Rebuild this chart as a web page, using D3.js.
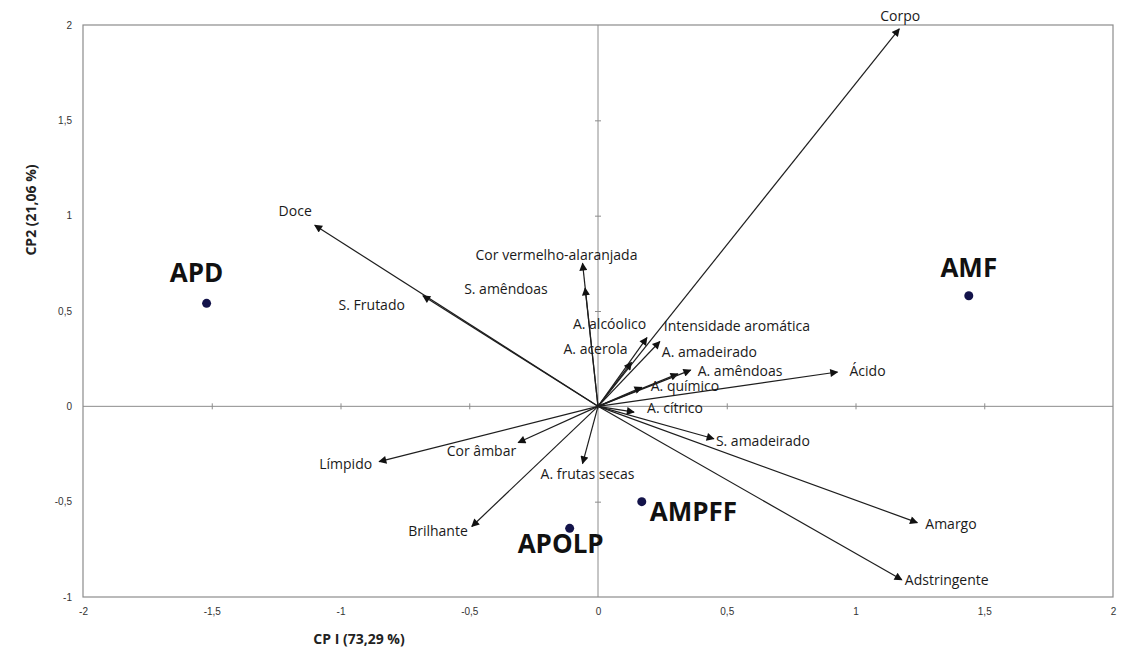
<!DOCTYPE html>
<html>
<head>
<meta charset="utf-8">
<script src="https://cdn.jsdelivr.net/npm/d3@7"></script>
<style>
  body { margin: 0; background: #fff; }
  svg { font-family: "Open Sans", "Noto Sans", sans-serif; }
  .tick text { fill: #333; font-size: 10px; }
</style>
</head>
<body>
<div id="chart"></div>
<script>
// variable loadings (arrows)
const varNames = ['Corpo', 'Doce', 'S. Frutado', 'Cor vermelho-alaranjada', 'S. amêndoas',
  'A. alcóolico', 'Intensidade aromática', 'A. acerola', 'A. amadeirado', 'A. amêndoas',
  'A. químico', 'A. cítrico', 'Ácido', 'S. amadeirado', 'Cor âmbar', 'A. frutas secas',
  'Límpido', 'Brilhante', 'Amargo', 'Adstringente'];
const varCP1 = [1.17, -1.10, -0.68, -0.06, -0.05, 0.19, 0.24, 0.13, 0.31, 0.36,
  0.17, 0.14, 0.93, 0.45, -0.31, -0.06, -0.85, -0.49, 1.24, 1.18];
const varCP2 = [1.98, 0.95, 0.58, 0.75, 0.62, 0.36, 0.34, 0.23, 0.17, 0.19,
  0.10, -0.03, 0.18, -0.17, -0.19, -0.30, -0.29, -0.63, -0.61, -0.91];

// sample scores (points)
const sampleNames = ['APD', 'AMF', 'AMPFF', 'APOLP'];
const sampleCP1 = [-1.52, 1.44, 0.17, -0.11];
const sampleCP2 = [0.54, 0.58, -0.50, -0.64];

const xTicks = [-2, -1.5, -1, -0.5, 0, 0.5, 1, 1.5, 2];
const yTicks = [-1, -0.5, 0, 0.5, 1, 1.5, 2];

// label placement relative to arrow tip: [dx, dy, anchor]
const varLabelPos = {
  'Corpo': [1, -12, 'middle'], 'Doce': [-3, -13, 'end'], 'S. Frutado': [-18, 11, 'end'],
  'Cor vermelho-alaranjada': [-107, -7, 'start'], 'S. amêndoas': [-121, 2, 'start'],
  'A. alcóolico': [-74, -12, 'start'], 'Intensidade aromática': [4, -14, 'start'],
  'A. acerola': [-68, -12, 'start'], 'A. amadeirado': [-16, -21, 'start'],
  'A. amêndoas': [7, 2, 'start'], 'A. químico': [9, 0, 'start'], 'A. cítrico': [13, -3, 'start'],
  'Ácido': [12, 0, 'start'], 'S. amadeirado': [2, 4, 'start'], 'Cor âmbar': [-2, 10, 'end'],
  'A. frutas secas': [-42, 12, 'start'], 'Límpido': [-7, 4, 'end'], 'Brilhante': [-4, 6, 'end'],
  'Amargo': [8, 3, 'start'], 'Adstringente': [3, 1, 'start']
};
const sampleLabelPos = {
  'APD': [-10, -28, 'middle'], 'AMF': [0, -26, 'middle'],
  'AMPFF': [8, 12, 'start'], 'APOLP': [-9, 18, 'middle']
};

const width = 1137, height = 651;
const margin = {top: 25, right: 24, bottom: 54, left: 83};

const svg = d3.select('#chart').append('svg')
    .attr('width', width)
    .attr('height', height);

const x = d3.scaleLinear().domain([-2, 2]).range([margin.left, width - margin.right]);
const y = d3.scaleLinear().domain([-1, 2]).range([height - margin.bottom, margin.top]);

const fmt = d => String(d).replace('.', ',');

// arrow marker
svg.append('defs').append('marker')
    .attr('id', 'arrow')
    .attr('viewBox', '0 0 10 10')
    .attr('refX', 9)
    .attr('refY', 5)
    .attr('markerWidth', 10)
    .attr('markerHeight', 8)
    .attr('markerUnits', 'userSpaceOnUse')
    .attr('orient', 'auto')
  .append('path')
    .attr('d', 'M0,0 L10,5 L0,10 Z')
    .attr('fill', '#111');

// plot frame
svg.append('rect')
    .attr('x', x(-2))
    .attr('y', y(2))
    .attr('width', x(2) - x(-2))
    .attr('height', y(-1) - y(2))
    .attr('fill', 'none')
    .attr('stroke', '#8c8c8c')
    .attr('stroke-width', 1.2);

// tick labels outside the frame
svg.append('g')
    .attr('transform', `translate(0,${y(-1) + 8})`)
    .call(d3.axisBottom(x).tickValues(xTicks).tickFormat(fmt).tickSize(0))
    .call(g => g.select('.domain').remove());

svg.append('g')
    .attr('transform', `translate(${x(-2) - 8},0)`)
    .call(d3.axisLeft(y).tickValues(yTicks).tickFormat(fmt).tickSize(0))
    .call(g => g.select('.domain').remove());

// central axes through the origin
svg.append('line')
    .attr('x1', x(-2)).attr('x2', x(2))
    .attr('y1', y(0)).attr('y2', y(0))
    .attr('stroke', '#8c8c8c');
svg.append('line')
    .attr('x1', x(0)).attr('x2', x(0))
    .attr('y1', y(-1)).attr('y2', y(2))
    .attr('stroke', '#8c8c8c');

svg.append('g')
    .attr('transform', `translate(0,${y(0) - 3})`)
    .call(d3.axisBottom(x).tickValues(xTicks.slice(1, -1)).tickFormat('').tickSize(6))
    .call(g => g.select('.domain').remove())
    .call(g => g.selectAll('line').attr('stroke', '#8c8c8c'));

svg.append('g')
    .attr('transform', `translate(${x(0) + 3},0)`)
    .call(d3.axisLeft(y).tickValues(yTicks.slice(1, -1)).tickFormat('').tickSize(6))
    .call(g => g.select('.domain').remove())
    .call(g => g.selectAll('line').attr('stroke', '#8c8c8c'));

// loading vectors
const vars = varNames.map((name, i) => ({name, cp1: varCP1[i], cp2: varCP2[i]}));

svg.append('g').selectAll('line')
    .data(vars)
  .join('line')
    .attr('x1', x(0))
    .attr('y1', y(0))
    .attr('x2', d => x(d.cp1))
    .attr('y2', d => y(d.cp2))
    .attr('stroke', '#1e1e1e')
    .attr('stroke-width', 1.2)
    .attr('marker-end', 'url(#arrow)');

svg.append('g').selectAll('text')
    .data(vars)
  .join('text')
    .attr('x', d => x(d.cp1) + varLabelPos[d.name][0])
    .attr('y', d => y(d.cp2) + varLabelPos[d.name][1])
    .attr('text-anchor', d => varLabelPos[d.name][2])
    .attr('dominant-baseline', 'middle')
    .attr('font-size', 14)
    .attr('fill', '#1a1a1a')
    .text(d => d.name);

// sample scores
const samples = sampleNames.map((name, i) => ({name, cp1: sampleCP1[i], cp2: sampleCP2[i]}));

svg.append('g').selectAll('circle')
    .data(samples)
  .join('circle')
    .attr('cx', d => x(d.cp1))
    .attr('cy', d => y(d.cp2))
    .attr('r', 4.5)
    .attr('fill', '#13134a');

svg.append('g').selectAll('text')
    .data(samples)
  .join('text')
    .attr('x', d => x(d.cp1) + sampleLabelPos[d.name][0])
    .attr('y', d => y(d.cp2) + sampleLabelPos[d.name][1])
    .attr('text-anchor', d => sampleLabelPos[d.name][2])
    .attr('dominant-baseline', 'middle')
    .attr('font-size', 26)
    .attr('font-weight', 'bold')
    .attr('fill', '#111')
    .text(d => d.name);

// axis titles
svg.append('text')
    .attr('x', 359)
    .attr('y', 640)
    .attr('text-anchor', 'middle')
    .attr('dominant-baseline', 'middle')
    .attr('font-size', 14)
    .attr('font-weight', 'bold')
    .attr('fill', '#222')
    .text('CP I (73,29 %)');

svg.append('text')
    .attr('transform', 'translate(32,210) rotate(-90)')
    .attr('text-anchor', 'middle')
    .attr('dominant-baseline', 'middle')
    .attr('font-size', 14)
    .attr('font-weight', 'bold')
    .attr('fill', '#222')
    .text('CP2 (21,06 %)');
</script>
</body>
</html>
